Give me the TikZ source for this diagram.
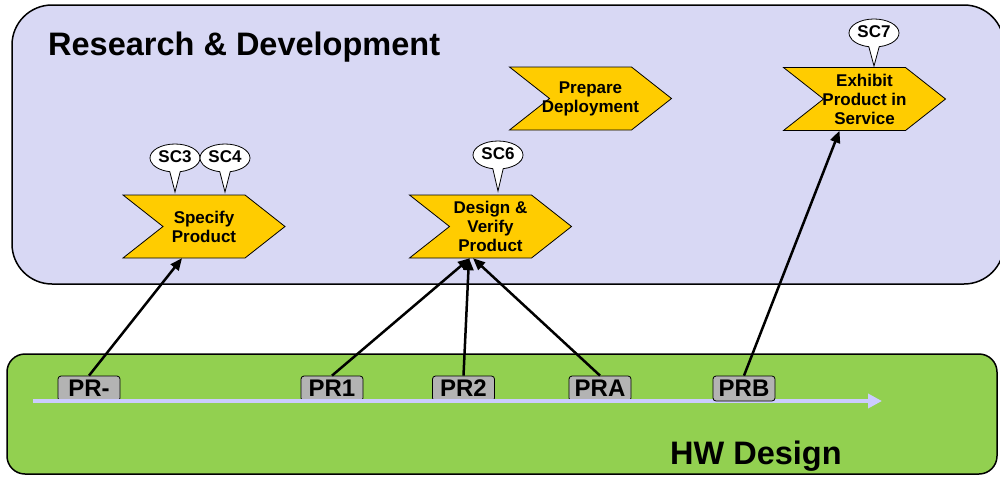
\documentclass[tikz,border=0pt]{standalone}
\usepackage{fontspec}
\setmainfont{Liberation Sans}
\usetikzlibrary{arrows.meta,calc}

\definecolor{rdfill}{RGB}{216,216,244}
\definecolor{hwfill}{RGB}{146,208,80}
\definecolor{chevfill}{RGB}{255,204,0}
\definecolor{tlcolor}{RGB}{204,204,255}
\definecolor{prfill}{RGB}{179,179,179}

\tikzset{
  lane/.style={draw=black, line width=1.5},
  chevshape/.style={fill=chevfill, draw=black, line width=0.8, line join=miter},
  chevtext/.style={minimum width=162, minimum height=63, inner sep=0, align=center,
    font=\fontsize{17}{19}\selectfont\bfseries},
  bubble/.style={fill=white, draw=black, line width=0.8},
  bubbletext/.style={inner sep=0, font=\fontsize{17}{19}\selectfont\bfseries},
  prbox/.style={draw=black, line width=0.8, fill=prfill, rounded corners=3,
    minimum width=62, minimum height=25, inner sep=0,
    font=\fontsize{24}{24}\selectfont\bfseries},
  timeline/.style={draw=tlcolor, line width=4, -{Triangle[length=14,width=14]}},
  link/.style={draw=black, line width=2.5, -{Triangle[length=12,width=10]}},
  lanetitle/.style={anchor=base west, inner sep=0, font=\fontsize{32.5}{36}\selectfont\bfseries},
}

% chevron-shaped process step: name, centre x, centre y, label
\newcommand\drawchevron[4]{%
  \path[chevshape] (#2-81,#3-31.5) -- ++(122,0) -- ++(40,31.5) -- ++(-40,31.5)
    -- ++(-122,0) -- ++(40,-31.5) -- cycle;
  \node[chevtext] (#1) at (#2,#3) {#4};}

% speech-bubble tag: name, centre x, centre y, tip y, label
\newcommand\drawcallout[5]{%
  \path[bubble] (#2,#4) -- ($(#2,#3)+(78:25 and 14)$)
    arc[start angle=78, end angle=-258, x radius=25, y radius=14] -- cycle;
  \node[bubbletext] (#1) at (#2,#3-1) {#5};}

\begin{document}
\begin{tikzpicture}[x=1pt, y=-1pt]
\useasboundingbox (0,0) rectangle (1000,477);

% swim lanes
\begin{scope}
  \clip (0,0) rectangle (1000,477);
  \path[lane, fill=rdfill, rounded corners=40] (12,5) rectangle (1004,284);
  \path[lane, fill=hwfill, rounded corners=18] (7,354) rectangle (997,474);
\end{scope}
\node[lanetitle] (rdtitle) at (48,55) {Research \& Development};
\node[lanetitle] (hwtitle) at (670,464) {HW Design};

% process steps
\drawchevron{spec}{204}{226.5}{Specify\\Product}
\drawchevron{design}{490.5}{226.5}{Design \&\\Verify\\Product}
\drawchevron{prep}{590.5}{98.5}{Prepare\\Deployment}
\drawchevron{exhibit}{864.5}{99}{Exhibit\\Product in\\Service}

% tags
\drawcallout{sc3}{175}{158}{192}{SC3}
\drawcallout{sc4}{225}{158}{192}{SC4}
\drawcallout{sc6}{498}{155}{191}{SC6}
\drawcallout{sc7}{874}{33}{66}{SC7}

% milestones on the time line
\node[prbox] (pr0) at (89,388.5) {PR-};
\node[prbox] (pr1) at (332,388.5) {PR1};
\node[prbox] (pr2) at (463.5,388.5) {PR2};
\node[prbox] (pra) at (600,388.5) {PRA};
\coordinate (tlstart) at (33,401);
\coordinate (tlend) at (882,401);
\draw[timeline] (tlstart) -- (tlend);
\node[prbox] (prb) at (744,388.5) {PRB};

% milestone links
\draw[link] (pr0.north) -- ($(spec.south)+(-22,0)$);
\draw[link] (pr1.north) -- ($(design.south)+(-20.5,0)$);
\draw[link] (pr2.north) -- ($(design.south)+(-21.5,0)$);
\draw[link] (pra.north) -- ($(design.south)+(-17.5,0)$);
\draw[link] (prb.north) -- ($(exhibit.south)+(-25,0)$);
\end{tikzpicture}
\end{document}
